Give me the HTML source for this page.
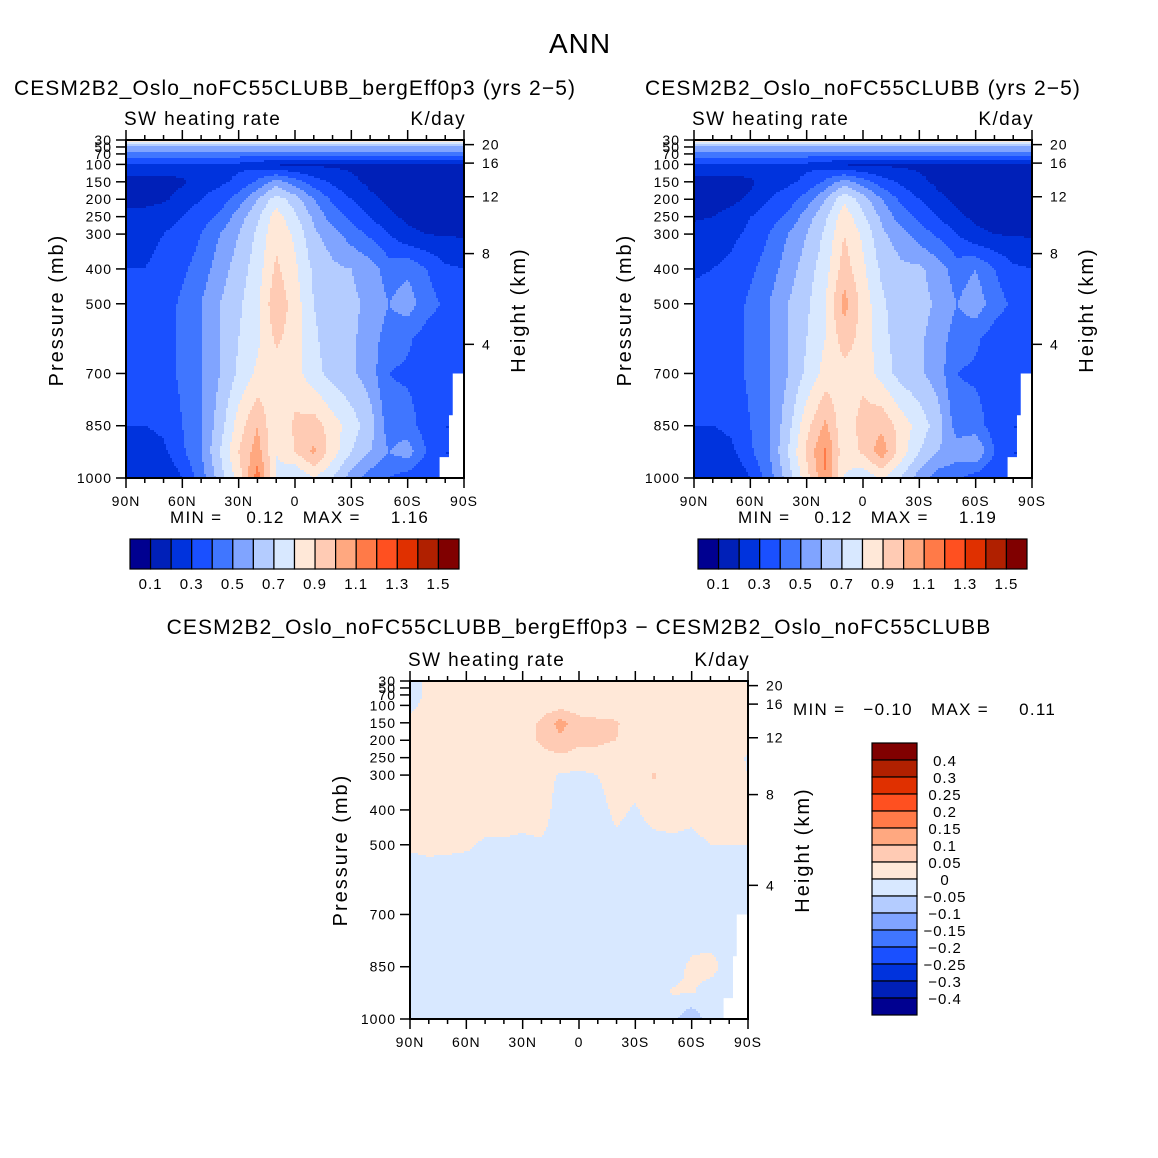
<!DOCTYPE html>
<html><head><meta charset="utf-8">
<style>
html,body{margin:0;padding:0;background:#fff;}
svg{display:block;font-family:"Liberation Sans",sans-serif;}
text{letter-spacing:1px;}
.ttl{letter-spacing:1.1px;}
.axt{letter-spacing:2px;}
.var{letter-spacing:1.4px;}
.mm{letter-spacing:1.3px;}
</style></head>
<body>
<svg id="root" width="1158" height="1158" viewBox="0 0 1158 1158" xmlns="http://www.w3.org/2000/svg">
<rect x="0" y="0" width="1158" height="1158" fill="#fff"/>
<text x="580" y="53" font-size="28" text-anchor="middle">ANN</text>

<text class="ttl" x="295" y="95" font-size="21" text-anchor="middle">CESM2B2_Oslo_noFC55CLUBB_bergEff0p3 (yrs 2−5)</text>
<text class="var" x="124" y="125" font-size="19">SW heating rate</text>
<text class="var" x="466" y="125" font-size="19" text-anchor="end">K/day</text>
<text class="axt" x="63" y="310" font-size="20" text-anchor="middle" transform="rotate(-90 63 310)">Pressure (mb)</text>
<text class="axt" x="525" y="310" font-size="20" text-anchor="middle" transform="rotate(-90 525 310)">Height (km)</text>
<text class="mm" x="170" y="523" font-size="17" xml:space="preserve">MIN =    0.12   MAX =     1.16</text>

<text class="ttl" x="863" y="95" font-size="21" text-anchor="middle">CESM2B2_Oslo_noFC55CLUBB (yrs 2−5)</text>
<text class="var" x="692" y="125" font-size="19">SW heating rate</text>
<text class="var" x="1034" y="125" font-size="19" text-anchor="end">K/day</text>
<text class="axt" x="631" y="310" font-size="20" text-anchor="middle" transform="rotate(-90 631 310)">Pressure (mb)</text>
<text class="axt" x="1093" y="310" font-size="20" text-anchor="middle" transform="rotate(-90 1093 310)">Height (km)</text>
<text class="mm" x="738" y="523" font-size="17" xml:space="preserve">MIN =    0.12   MAX =     1.19</text>

<text class="ttl" x="579" y="634" font-size="21" text-anchor="middle">CESM2B2_Oslo_noFC55CLUBB_bergEff0p3 − CESM2B2_Oslo_noFC55CLUBB</text>
<text class="var" x="408" y="666" font-size="19">SW heating rate</text>
<text class="var" x="750" y="666" font-size="19" text-anchor="end">K/day</text>
<text class="axt" x="347" y="850" font-size="20" text-anchor="middle" transform="rotate(-90 347 850)">Pressure (mb)</text>
<text class="axt" x="809" y="850" font-size="20" text-anchor="middle" transform="rotate(-90 809 850)">Height (km)</text>
<text class="mm" x="793" y="715" font-size="17" xml:space="preserve">MIN =   −0.10   MAX =     0.11</text>
</svg>
<script>
// ---- data ----
const lats = [90,80,70,60,50,40,30,20,10,0,-10,-20,-30,-40,-50,-60,-70,-80,-90];
const pLevels = [30,50,70,100,150,200,250,300,400,500,600,700,850,925,1000];
const pTickLabels = [30,50,70,100,150,200,250,300,400,500,700,850,1000];
const hTickLabels = [20,16,12,8,4];
const latTicks = [90,60,30,0,-30,-60,-90];
const latTickLabels = ["90N","60N","30N","0","30S","60S","90S"];
const absLevels = [0.1,0.2,0.3,0.4,0.5,0.6,0.7,0.8,0.9,1.0,1.1,1.2,1.3,1.4,1.5];
const absLabels = ["0.1","0.3","0.5","0.7","0.9","1.1","1.3","1.5"];
const diffLevels = [-0.4,-0.3,-0.25,-0.2,-0.15,-0.1,-0.05,0,0.05,0.1,0.15,0.2,0.25,0.3,0.4];
const diffLabels = ["−0.4","−0.3","−0.25","−0.2","−0.15","−0.1","−0.05","0","0.05","0.1","0.15","0.2","0.25","0.3","0.4"];
const palette = ["#000090","#0020b8","#0033dd","#1a50ff","#4076ff","#80a4ff","#b4ccff","#d8e8ff","#ffe8d8","#ffcbb4","#ffa880","#ff7a48","#ff5020","#e03000","#b02000","#800000"];
const maskLat = [-84,-84,-82,-82,-77,-77,-90,-90];
const maskP = [700,820,820,940,940,1000,1000,700];

const heat1 = [
[0.85,0.85,0.85,0.85,0.85,0.85,0.85,0.85,0.85,0.85,0.85,0.85,0.85,0.85,0.85,0.85,0.85,0.85,0.85],
[0.6,0.6,0.6,0.6,0.6,0.6,0.6,0.6,0.6,0.6,0.6,0.6,0.6,0.6,0.6,0.6,0.6,0.6,0.6],
[0.45,0.45,0.45,0.45,0.45,0.45,0.45,0.45,0.45,0.45,0.45,0.45,0.45,0.45,0.45,0.45,0.45,0.45,0.45],
[0.28,0.28,0.28,0.28,0.28,0.28,0.28,0.25,0.19,0.18,0.18,0.18,0.18,0.18,0.19,0.2,0.2,0.2,0.2],
[0.15,0.15,0.15,0.18,0.25,0.28,0.32,0.42,0.55,0.45,0.35,0.28,0.22,0.18,0.15,0.15,0.15,0.15,0.15],
[0.15,0.15,0.18,0.25,0.3,0.35,0.45,0.6,0.75,0.65,0.5,0.38,0.3,0.22,0.18,0.15,0.15,0.15,0.15],
[0.25,0.26,0.28,0.3,0.35,0.42,0.55,0.68,0.85,0.72,0.58,0.45,0.38,0.3,0.22,0.18,0.17,0.17,0.17],
[0.28,0.28,0.3,0.32,0.4,0.5,0.6,0.72,0.88,0.78,0.62,0.55,0.45,0.38,0.3,0.22,0.2,0.19,0.19],
[0.3,0.3,0.32,0.38,0.45,0.55,0.65,0.75,0.92,0.82,0.68,0.62,0.6,0.55,0.45,0.48,0.4,0.32,0.3],
[0.32,0.33,0.35,0.42,0.5,0.6,0.68,0.78,0.98,0.85,0.7,0.64,0.62,0.58,0.5,0.55,0.45,0.38,0.35],
[0.33,0.34,0.36,0.42,0.5,0.6,0.7,0.78,0.92,0.85,0.72,0.64,0.62,0.55,0.45,0.42,0.35,0.32,0.32],
[0.33,0.34,0.36,0.42,0.5,0.6,0.72,0.82,0.85,0.84,0.74,0.66,0.62,0.55,0.4,0.38,0.35,0.32,null],
[0.3,0.3,0.32,0.4,0.5,0.65,0.85,1.0,0.8,0.92,0.95,0.85,0.75,0.65,0.45,0.45,0.35,0.3,null],
[0.25,0.25,0.28,0.38,0.5,0.7,0.9,1.05,0.8,0.9,1.02,0.85,0.7,0.6,0.5,0.55,0.4,0.3,null],
[0.22,0.2,0.2,0.3,0.45,0.65,0.85,1.15,0.78,0.7,0.8,0.7,0.55,0.45,0.4,0.35,0.3,0.3,null]
];
const heat2 = [
[0.85,0.85,0.85,0.85,0.85,0.85,0.85,0.85,0.85,0.85,0.85,0.85,0.85,0.85,0.85,0.85,0.85,0.85,0.85],
[0.6,0.6,0.6,0.6,0.6,0.6,0.6,0.6,0.6,0.6,0.6,0.6,0.6,0.6,0.6,0.6,0.6,0.6,0.6],
[0.45,0.45,0.45,0.45,0.45,0.45,0.45,0.45,0.45,0.45,0.45,0.45,0.45,0.45,0.45,0.45,0.45,0.45,0.45],
[0.28,0.28,0.28,0.28,0.28,0.28,0.28,0.25,0.19,0.18,0.18,0.18,0.18,0.18,0.19,0.2,0.2,0.2,0.2],
[0.15,0.15,0.15,0.18,0.25,0.28,0.32,0.42,0.55,0.45,0.35,0.28,0.22,0.18,0.15,0.15,0.15,0.15,0.15],
[0.15,0.15,0.17,0.22,0.3,0.35,0.45,0.6,0.78,0.65,0.5,0.38,0.3,0.22,0.18,0.15,0.15,0.15,0.15],
[0.18,0.2,0.24,0.3,0.35,0.42,0.55,0.68,0.86,0.72,0.58,0.45,0.38,0.3,0.22,0.18,0.17,0.17,0.17],
[0.25,0.26,0.28,0.32,0.4,0.5,0.6,0.72,0.9,0.78,0.62,0.55,0.45,0.38,0.3,0.22,0.2,0.19,0.19],
[0.29,0.3,0.32,0.38,0.45,0.55,0.65,0.76,0.95,0.82,0.68,0.62,0.62,0.55,0.45,0.5,0.4,0.32,0.3],
[0.32,0.33,0.35,0.42,0.5,0.6,0.68,0.8,1.04,0.86,0.72,0.64,0.64,0.58,0.5,0.56,0.45,0.38,0.35],
[0.33,0.34,0.36,0.42,0.5,0.6,0.7,0.8,0.95,0.86,0.74,0.64,0.62,0.55,0.45,0.42,0.35,0.32,0.32],
[0.33,0.34,0.36,0.42,0.5,0.6,0.72,0.84,0.86,0.86,0.76,0.66,0.62,0.55,0.4,0.38,0.35,0.32,null],
[0.3,0.3,0.32,0.4,0.5,0.66,0.87,1.02,0.82,0.95,0.98,0.86,0.76,0.65,0.45,0.45,0.35,0.3,null],
[0.25,0.25,0.28,0.38,0.5,0.7,0.92,1.12,0.82,0.92,1.06,0.86,0.7,0.6,0.55,0.6,0.4,0.3,null],
[0.22,0.2,0.2,0.3,0.45,0.65,0.86,1.1,0.8,0.72,0.82,0.7,0.55,0.45,0.42,0.35,0.3,0.3,null]
];
const diff = [
[-0.02,0.01,0.02,0.02,0.02,0.02,0.02,0.02,0.02,0.02,0.02,0.02,0.02,0.02,0.02,0.02,0.02,0.02,-0.005],
[-0.02,0.01,0.02,0.02,0.02,0.02,0.02,0.02,0.02,0.02,0.02,0.02,0.02,0.02,0.02,0.02,0.02,0.02,0.02],
[-0.02,0.01,0.02,0.02,0.02,0.02,0.02,0.02,0.02,0.02,0.02,0.02,0.02,0.02,0.02,0.02,0.02,0.02,0.02],
[-0.01,0.015,0.02,0.02,0.02,0.02,0.02,0.02,0.03,0.02,0.02,0.02,0.02,0.02,0.02,0.02,0.02,0.02,0.02],
[0.01,0.02,0.02,0.02,0.02,0.02,0.02,0.06,0.12,0.07,0.06,0.055,0.02,0.02,0.02,0.02,0.02,0.02,0.02],
[0.02,0.02,0.02,0.02,0.02,0.02,0.02,0.06,0.09,0.06,0.06,0.05,0.02,0.02,0.02,0.02,0.02,0.02,0.02],
[0.02,0.02,0.02,0.02,0.02,0.02,0.02,0.03,0.04,0.03,0.03,0.02,0.02,0.02,0.02,0.02,0.02,0.02,-0.005],
[0.02,0.02,0.02,0.02,0.02,0.02,0.02,0.02,-0.005,-0.01,0.0,0.02,0.02,0.055,0.02,0.02,0.02,0.02,0.0],
[0.02,0.02,0.02,0.02,0.02,0.02,0.02,0.02,-0.02,-0.02,-0.015,0.01,-0.005,0.02,0.02,0.01,0.02,0.02,0.05],
[0.005,0.01,0.008,0.005,-0.005,-0.005,-0.01,-0.005,-0.02,-0.02,-0.02,-0.01,-0.02,-0.015,-0.01,-0.01,0.0,0.0,0.0],
[-0.02,-0.02,-0.02,-0.02,-0.02,-0.02,-0.02,-0.02,-0.02,-0.02,-0.02,-0.02,-0.02,-0.02,-0.02,-0.02,-0.02,-0.02,-0.02],
[-0.02,-0.02,-0.02,-0.02,-0.02,-0.02,-0.02,-0.02,-0.02,-0.02,-0.02,-0.02,-0.02,-0.02,-0.02,-0.02,-0.02,-0.01,null],
[-0.02,-0.02,-0.02,-0.02,-0.02,-0.02,-0.02,-0.02,-0.02,-0.02,-0.02,-0.02,-0.02,-0.02,-0.01,0.005,0.008,-0.01,null],
[-0.02,-0.02,-0.02,-0.02,-0.02,-0.02,-0.02,-0.02,-0.02,-0.02,-0.02,-0.02,-0.02,-0.01,0.003,0.002,-0.01,-0.01,null],
[-0.02,-0.02,-0.02,-0.02,-0.02,-0.02,-0.02,-0.02,-0.02,-0.02,-0.02,-0.02,-0.02,-0.02,-0.04,-0.09,-0.02,-0.02,null]
];

// ---- drawing ----
const NS = "http://www.w3.org/2000/svg";
const root = document.getElementById('root');
function mk(tag, attrs, parent){
  const e = document.createElementNS(NS, tag);
  for (const k in attrs) e.setAttribute(k, attrs[k]);
  (parent||root).appendChild(e);
  return e;
}
function heightToP(z){ return 1013.25*Math.pow(1-2.25577e-5*z*1000,5.25588); }

function drawPlot(prefix, x0, y0, w, h, data, levels){
  const xOf = lat => x0 + (90-lat)/180*w;
  const yOf = p => y0 + (p-30)/970*h;
  const g = mk('g', {});
  
  
  const filled = data.map(row => { const r = row.slice(); for (let i=0;i<r.length;i++){ if (r[i]===null) r[i]=r[i-1]; } return r; });
  const step = 2;
  const nLat = lats.length;
  for (let yy = 0; yy < h; yy += step){
    const p = 30 + (yy+step/2)/h*970;
    let k = 0; while (k < pLevels.length-2 && pLevels[k+1] < p) k++;
    const tp = Math.min(1, Math.max(0, (p-pLevels[k])/(pLevels[k+1]-pLevels[k])));
    let runStart = 0, runCol = -1;
    const hh = Math.min(step, h-yy);
    for (let xx = 0; xx <= w; xx += step){
      let ci = -1;
      if (xx < w){
        const lat = 90 - (xx+step/2)/w*180;
        const fi = (90-lat)/10;
        let i = Math.min(nLat-2, Math.floor(fi)); const tx = fi - i;
        const v = (1-tp)*((1-tx)*filled[k][i] + tx*filled[k][i+1]) + tp*((1-tx)*filled[k+1][i] + tx*filled[k+1][i+1]);
        ci = 0; while (ci < levels.length && v >= levels[ci]) ci++;
      }
      if (ci !== runCol){
        if (runCol >= 0){
          const r = mk('rect', {x:x0+runStart, y:y0+yy, width:Math.min(xx,w)-runStart, height:hh, fill:palette[runCol]}, g);
          
          
        }
        runStart = xx; runCol = ci;
      }
    }
  }
  const pts = maskLat.map((la,i) => xOf(la)+','+yOf(maskP[i])).join(' ');
  const m = mk('polygon', {points:pts, fill:'#fff'});
  
  
  const fr = mk('rect', {x:x0, y:y0, width:w, height:h, fill:'none', stroke:'#000', 'stroke-width':2});
  
  
  const ax = mk('g', {stroke:'#000','stroke-width':1.5});
  
  
  for (let lat = 90; lat >= -90; lat -= 10){
    const major = lat % 30 === 0; const L = major ? 10 : 5; const x = xOf(lat);
    mk('line', {x1:x, y1:y0+h, x2:x, y2:y0+h+L}, ax);
    mk('line', {x1:x, y1:y0, x2:x, y2:y0-L}, ax);
  }
  latTicks.forEach((lat,i) => {
    const t = mk('text', {x:xOf(lat), y:y0+h+28, 'font-size':14, 'text-anchor':'middle'});
    t.textContent = latTickLabels[i];
    
    
  });
  const ay = mk('g', {stroke:'#000','stroke-width':1.5});
  
  
  pTickLabels.forEach(p => {
    mk('line', {x1:x0-10, y1:yOf(p), x2:x0, y2:yOf(p)}, ay);
    const t = mk('text', {x:x0-14, y:yOf(p)+5, 'font-size':14, 'text-anchor':'end'});
    t.textContent = p;
    
    
  });
  const ar = mk('g', {stroke:'#000','stroke-width':1.5});
  
  
  hTickLabels.forEach(z => {
    const y = yOf(heightToP(z));
    mk('line', {x1:x0+w, y1:y, x2:x0+w+10, y2:y}, ar);
    const t = mk('text', {x:x0+w+18, y:y+5, 'font-size':14});
    t.textContent = z;
    
    
  });
}

function hColorbar(prefix, x0, y0, w, h){
  const g = mk('g', {});
  
  
  const bw = w/palette.length;
  palette.forEach((c,i) => {
    const r = mk('rect', {x:x0+i*bw, y:y0, width:bw, height:h, fill:c, stroke:'#000', 'stroke-width':1.2}, g);
    
    
  });
  absLabels.forEach((lab,i) => {
    const t = mk('text', {x:x0+(1+2*i)*bw, y:y0+h+20, 'font-size':15, 'text-anchor':'middle'}, g);
    t.textContent = lab;
    
    
  });
}

function vColorbar(prefix, x0, y0, w, h){
  const g = mk('g', {});
  
  
  const bh = h/palette.length;
  for (let i = 0; i < palette.length; i++){
    const r = mk('rect', {x:x0, y:y0+i*bh, width:w, height:bh, fill:palette[palette.length-1-i], stroke:'#000', 'stroke-width':1.2}, g);
    
    
  }
  for (let i = 0; i < diffLabels.length; i++){
    const t = mk('text', {x:x0+w+28, y:y0+(i+1)*bh+6, 'font-size':15, 'text-anchor':'middle'}, g);
    t.textContent = diffLabels[diffLabels.length-1-i];
    
    
  }
}

drawPlot('plot1', 126, 140, 338, 338, heat1, absLevels);
drawPlot('plot2', 694, 140, 338, 338, heat2, absLevels);
drawPlot('plot3', 410, 681, 338, 338, diff, diffLevels);
hColorbar('plot1', 130, 539, 329, 30);
hColorbar('plot2', 698, 539, 329, 30);
vColorbar('plot3', 872, 743, 45, 272);
</script>
</body></html>
